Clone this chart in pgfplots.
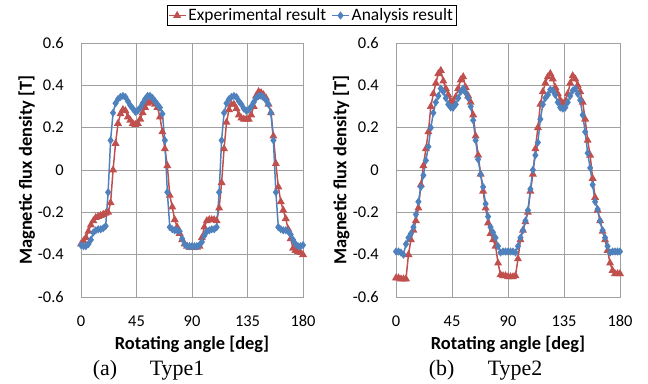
\documentclass[border=0pt]{standalone}
\usepackage{pgfplots}
\pgfplotsset{compat=1.18}
\usepackage{fontspec}
\setmainfont{Carlito}
\newfontfamily\capfont{Liberation Serif}
\definecolor{exred}{RGB}{192,80,77}
\definecolor{anblue}{RGB}{79,129,189}
\definecolor{gridgray}{RGB}{160,160,160}
\pgfplotsset{
  myax/.style={
    scale only axis, height=254bp,
    xmin=0, xmax=180, ymin=-0.6, ymax=0.6,
    xtick={0,45,90,135,180},
    ytick={-0.6,-0.4,-0.2,0,0.2,0.4,0.6},
    yticklabels={-0.6,-0.4,-0.2,0,0.2,0.4,0.6},
    xticklabels={0,45,90,135,180},
    major tick length=0pt,
    grid=major,
    major grid style={gridgray, line width=0.9pt},
    axis line style={gridgray, line width=0.9pt},
    tick label style={font=\fontsize{16.5}{19}\selectfont, inner sep=0pt},
    yticklabel style={anchor=east, xshift=-17bp},
    xticklabel style={anchor=base, yshift=-29bp},
    xlabel={Rotating angle [deg]},
    ylabel={Magnetic flux density [T]},
    label style={font=\fontsize{18.5}{20}\selectfont\bfseries},
    xlabel style={at={(axis description cs:0.5,-0.205)}, anchor=base},
    ylabel style={at={(axis description cs:-0.245,0.5)}, anchor=center},
    clip=false,
  },
  exp/.style={color=exred, line width=1.5pt, mark=triangle*, mark size=3.2pt, mark options={solid, fill=exred}},
  ana/.style={color=anblue, line width=1.5pt, mark=diamond*, mark size=2.9pt, mark options={solid, fill=anblue}},
}
\begin{document}
\begin{tikzpicture}[x=1bp,y=1bp]
\path[use as bounding box] (0,0) rectangle (648,383);
\begin{axis}[myax, width=222bp, at={(81bp,86bp)}, anchor=south west,
  legend columns=2,
  legend style={at={(axis description cs:1.038,1.108)}, anchor=center, draw=black, line width=0.7pt,
    font=\fontsize{17.5}{19}\selectfont, inner sep=1pt, /tikz/every even column/.append style={column sep=3bp}},
  legend cell align=left]
\addplot[exp] coordinates {
(0,-0.35)(2,-0.335)(4,-0.32)(6,-0.29)(8,-0.26)(10,-0.24)(12,-0.225)(14,-0.22)(16,-0.215)(18,-0.21)(20,-0.205)(22,-0.2)(24,-0.155)(26,0.0)(28,0.125)(30,0.22)(32,0.265)(34,0.285)(36,0.28)(38,0.25)(40,0.235)(42,0.22)(44,0.215)(46,0.22)(48,0.24)(50,0.27)(52,0.295)(54,0.315)(56,0.325)(58,0.32)(60,0.31)(62,0.295)(64,0.25)(66,0.18)(68,0.1)(70,0.02)(72,-0.12)(74,-0.175)(76,-0.235)(78,-0.27)(80,-0.3)(82,-0.33)(84,-0.35)(86,-0.36)(88,-0.365)
(90,-0.365)(92,-0.365)(94,-0.365)(96,-0.36)(98,-0.32)(100,-0.27)(102,-0.24)(104,-0.235)(106,-0.235)(108,-0.235)(110,-0.24)(112,-0.18)(114,-0.06)(116,0.1)(118,0.225)(120,0.285)(122,0.31)(124,0.31)(126,0.29)(128,0.26)(130,0.245)(132,0.24)(134,0.24)(136,0.24)(138,0.26)(140,0.3)(142,0.35)(144,0.37)(146,0.365)(148,0.355)(150,0.34)(152,0.31)(154,0.27)(156,0.16)(158,0.03)(160,-0.08)(162,-0.15)(164,-0.19)(166,-0.23)(168,-0.28)(170,-0.325)(172,-0.37)(174,-0.38)(176,-0.385)(178,-0.39)(180,-0.40)
};
\addlegendentry{Experimental result}
\addplot[ana] coordinates {
(0,-0.355)(2,-0.36)(4,-0.36)(6,-0.35)(8,-0.33)(10,-0.295)(12,-0.285)(14,-0.28)(16,-0.28)(18,-0.275)(20,-0.265)(22,-0.105)(24,0.14)(26,0.27)(28,0.315)(30,0.335)(32,0.345)(34,0.35)(36,0.345)(38,0.325)(40,0.305)(42,0.29)(44,0.275)(46,0.28)(48,0.295)(50,0.315)(52,0.335)(54,0.35)(56,0.35)(58,0.34)(60,0.325)(62,0.31)(64,0.295)(66,0.265)(68,0.14)(70,-0.105)(72,-0.27)(74,-0.28)(76,-0.285)(78,-0.285)(80,-0.29)(82,-0.325)(84,-0.35)(86,-0.36)(88,-0.36)
(90,-0.36)(92,-0.36)(94,-0.36)(96,-0.355)(98,-0.34)(100,-0.31)(102,-0.29)(104,-0.285)(106,-0.28)(108,-0.28)(110,-0.27)(112,-0.105)(114,0.14)(116,0.27)(118,0.315)(120,0.335)(122,0.345)(124,0.35)(126,0.345)(128,0.325)(130,0.31)(132,0.29)(134,0.28)(136,0.285)(138,0.3)(140,0.32)(142,0.34)(144,0.35)(146,0.35)(148,0.345)(150,0.33)(152,0.31)(154,0.27)(156,0.14)(158,-0.105)(160,-0.27)(162,-0.28)(164,-0.285)(166,-0.285)(168,-0.29)(170,-0.305)(172,-0.33)(174,-0.35)(176,-0.36)(178,-0.36)(180,-0.355)
};
\addlegendentry{Analysis result}
\end{axis}
\begin{axis}[myax, width=224bp, at={(396bp,86bp)}, anchor=south west]
\addplot[exp] coordinates {
(0,-0.51)(2,-0.51)(4,-0.515)(6,-0.515)(8,-0.515)(10,-0.40)(12,-0.33)(14,-0.285)(16,-0.24)(18,-0.18)(20,-0.07)(22,0.02)(24,0.1)(26,0.18)(28,0.3)(30,0.36)(32,0.41)(34,0.455)(36,0.47)(38,0.42)(40,0.385)(42,0.355)(44,0.325)(46,0.315)(48,0.345)(50,0.385)(52,0.425)(54,0.44)(56,0.39)(58,0.35)(60,0.32)(62,0.26)(64,0.16)(66,0.07)(68,-0.02)(70,-0.1)(72,-0.18)(74,-0.25)(76,-0.3)(78,-0.33)(80,-0.36)(82,-0.44)(84,-0.495)(86,-0.5)(88,-0.5)
(90,-0.505)(92,-0.505)(94,-0.505)(96,-0.5)(98,-0.42)(100,-0.33)(102,-0.285)(104,-0.245)(106,-0.2)(108,-0.1)(110,-0.02)(112,0.1)(114,0.2)(116,0.31)(118,0.37)(120,0.41)(122,0.44)(124,0.455)(126,0.43)(128,0.39)(130,0.36)(132,0.33)(134,0.315)(136,0.325)(138,0.36)(140,0.41)(142,0.445)(144,0.43)(146,0.4)(148,0.37)(150,0.32)(152,0.24)(154,0.14)(156,0.07)(158,-0.04)(160,-0.13)(162,-0.19)(164,-0.24)(166,-0.29)(168,-0.33)(170,-0.38)(172,-0.44)(174,-0.475)(176,-0.49)(178,-0.49)(180,-0.49)
};
\addplot[ana] coordinates {
(0,-0.385)(2,-0.385)(4,-0.39)(6,-0.40)(8,-0.35)(10,-0.32)(12,-0.30)(14,-0.27)(16,-0.21)(18,-0.15)(20,-0.08)(22,-0.025)(24,0.045)(26,0.11)(28,0.2)(30,0.27)(32,0.32)(34,0.35)(36,0.385)(38,0.37)(40,0.34)(42,0.31)(44,0.295)(46,0.295)(48,0.31)(50,0.34)(52,0.37)(54,0.385)(56,0.365)(58,0.34)(60,0.3)(62,0.235)(64,0.14)(66,0.05)(68,-0.02)(70,-0.08)(72,-0.16)(74,-0.22)(76,-0.27)(78,-0.295)(80,-0.32)(82,-0.36)(84,-0.39)(86,-0.385)(88,-0.385)
(90,-0.385)(92,-0.385)(94,-0.385)(96,-0.39)(98,-0.36)(100,-0.32)(102,-0.285)(104,-0.24)(106,-0.19)(108,-0.09)(110,0.0)(112,0.07)(114,0.13)(116,0.24)(118,0.31)(120,0.34)(122,0.355)(124,0.38)(126,0.375)(128,0.355)(130,0.32)(132,0.295)(134,0.29)(136,0.295)(138,0.32)(140,0.35)(142,0.375)(144,0.385)(146,0.36)(148,0.33)(150,0.26)(152,0.18)(154,0.08)(156,0.01)(158,-0.07)(160,-0.15)(162,-0.185)(164,-0.24)(166,-0.285)(168,-0.32)(170,-0.36)(172,-0.39)(174,-0.385)(176,-0.385)(178,-0.385)(180,-0.385)
};
\end{axis}
\node[font=\capfont\fontsize{22}{24}\selectfont, anchor=base] at (105,8) {(a)};
\node[font=\capfont\fontsize{22}{24}\selectfont, anchor=base] at (177,8) {Type1};
\node[font=\capfont\fontsize{22}{24}\selectfont, anchor=base] at (441.7,8) {(b)};
\node[font=\capfont\fontsize{22}{24}\selectfont, anchor=base] at (515,8) {Type2};
\end{tikzpicture}
\end{document}
